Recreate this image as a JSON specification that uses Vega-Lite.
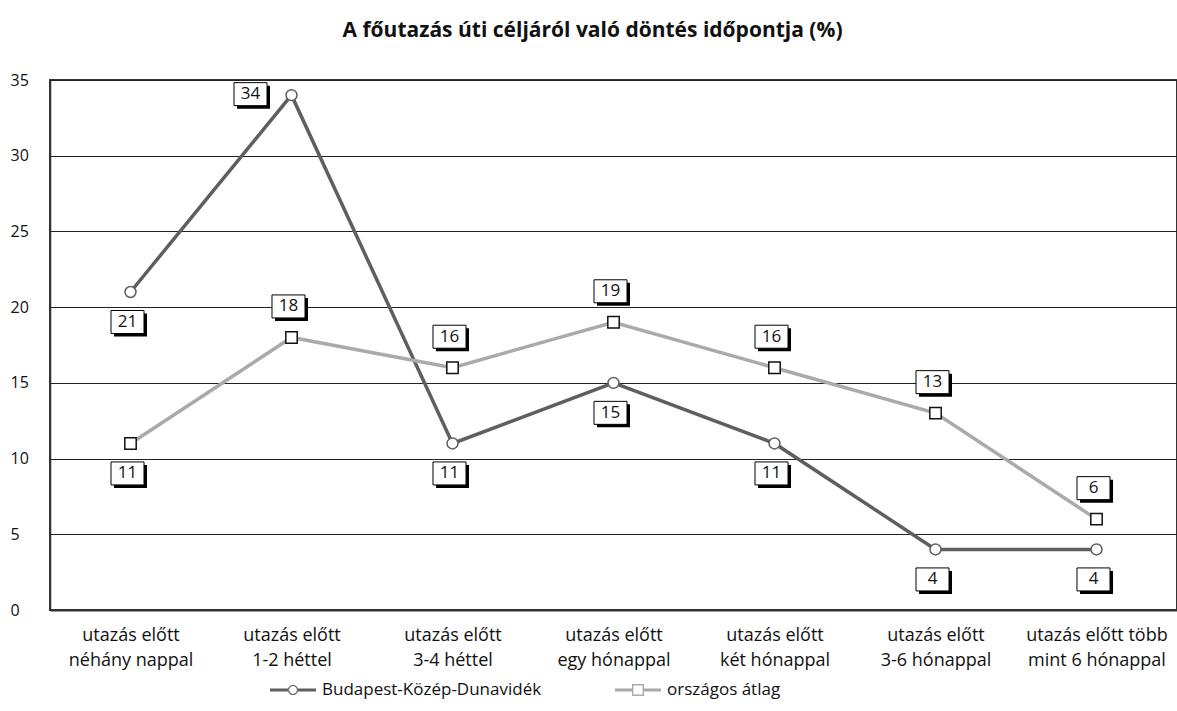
{
  "$schema": "https://vega.github.io/schema/vega-lite/v6.json",
  "width": 1127,
  "height": 530,
  "autosize": "none",
  "padding": {"left": 50, "top": 80, "right": 0, "bottom": 101},
  "background": "white",
  "config": {
    "view": {"stroke": "#333", "strokeWidth": 2},
    "font": "Open Sans"
  },
  "title": {
    "text": "A főutazás úti céljáról való döntés időpontja (%)",
    "font": "Open Sans",
    "fontSize": 21,
    "fontWeight": "bold",
    "color": "#111",
    "anchor": "middle",
    "dx": -21,
    "offset": 31
  },
  "data": {
    "values": [
      {"cat": "utazás előtt néhány nappal", "series": "Budapest-Közép-Dunavidék", "value": 21},
      {"cat": "utazás előtt 1-2 héttel", "series": "Budapest-Közép-Dunavidék", "value": 34},
      {"cat": "utazás előtt 3-4 héttel", "series": "Budapest-Közép-Dunavidék", "value": 11},
      {"cat": "utazás előtt egy hónappal", "series": "Budapest-Közép-Dunavidék", "value": 15},
      {"cat": "utazás előtt két hónappal", "series": "Budapest-Közép-Dunavidék", "value": 11},
      {"cat": "utazás előtt 3-6 hónappal", "series": "Budapest-Közép-Dunavidék", "value": 4},
      {"cat": "utazás előtt több mint 6 hónappal", "series": "Budapest-Közép-Dunavidék", "value": 4},
      {"cat": "utazás előtt néhány nappal", "series": "országos átlag", "value": 11},
      {"cat": "utazás előtt 1-2 héttel", "series": "országos átlag", "value": 18},
      {"cat": "utazás előtt 3-4 héttel", "series": "országos átlag", "value": 16},
      {"cat": "utazás előtt egy hónappal", "series": "országos átlag", "value": 19},
      {"cat": "utazás előtt két hónappal", "series": "országos átlag", "value": 16},
      {"cat": "utazás előtt 3-6 hónappal", "series": "országos átlag", "value": 13},
      {"cat": "utazás előtt több mint 6 hónappal", "series": "országos átlag", "value": 6}
    ]
  },
  "encoding": {
    "x": {
      "field": "cat",
      "type": "ordinal",
      "sort": null,
      "scale": {"type": "point", "padding": 0.5},
      "axis": {
        "title": null,
        "labelAngle": 0,
        "ticks": false,
        "grid": false,
        "domainColor": "#333",
        "domainWidth": 2,
        "labelFont": "Open Sans",
        "labelFontSize": 18,
        "labelColor": "#111",
        "labelPadding": 16,
        "labelLineHeight": 25,
        "labelOverlap": false,
        "labelLimit": 0,
        "labelExpr": "indexof(datum.label, 'több') > 0 ? ['utazás előtt több', 'mint 6 hónappal'] : [slice(datum.label, 0, 12), slice(datum.label, 13)]"
      }
    },
    "y": {
      "field": "value",
      "type": "quantitative",
      "scale": {"domain": [0, 35], "nice": false},
      "axis": {
        "title": null,
        "values": [0, 5, 10, 15, 20, 25, 30, 35],
        "grid": true,
        "gridColor": "#222",
        "gridWidth": 1,
        "ticks": false,
        "domainColor": "#333",
        "domainWidth": 1.5,
        "labelAlign": "left",
        "labelPadding": 40,
        "labelFont": "Open Sans",
        "labelFontSize": 16,
        "labelColor": "#111"
      }
    }
  },
  "layer": [
    {
      "mark": {"type": "line", "strokeWidth": 3.5},
      "encoding": {
        "color": {
          "field": "series",
          "type": "nominal",
          "scale": {"domain": ["Budapest-Közép-Dunavidék", "országos átlag"], "range": ["#5f5f5f", "#aaaaaa"]},
          "legend": {
            "orient": "none",
            "legendX": 220,
            "legendY": 587,
            "direction": "horizontal",
            "title": null,
            "symbolSize": 2116,
            "labelFont": "Open Sans",
            "labelFontSize": 17,
            "labelColor": "#111",
            "labelOffset": 6,
            "labelLimit": 0,
            "columnPadding": 73,
            "encode": {
              "symbols": {
                "update": {
                  "shape": {"signal": "datum.value == 'Budapest-Közép-Dunavidék' ? 'M-1,-0.07L-0.21,-0.07L-0.21,0.07L-1,0.07ZM0.21,-0.07L1,-0.07L1,0.07L0.21,0.07ZM-0.22,0A0.22 0.22 0 1 0 0.22,0A0.22 0.22 0 1 0 -0.22,0ZM-0.17,0A0.17 0.17 0 1 1 0.17,0A0.17 0.17 0 1 1 -0.17,0Z' : 'M-1,-0.07L-0.26,-0.07L-0.26,0.07L-1,0.07ZM0.26,-0.07L1,-0.07L1,0.07L0.26,0.07ZM-0.26,-0.26L0.26,-0.26L0.26,0.26L-0.26,0.26ZM-0.2,-0.2L-0.2,0.2L0.2,0.2L0.2,-0.2Z'"},
                  "fill": {"scale": "color", "field": "value"},
                  "stroke": {"value": "transparent"},
                  "strokeWidth": {"value": 0},
                  "opacity": {"value": 1}
                }
              }
            }
          }
        }
      }
    },
    {
      "transform": [{"filter": "datum.series == 'Budapest-Közép-Dunavidék'"}],
      "mark": {"type": "point", "shape": "circle", "size": 120, "filled": true, "fill": "white", "stroke": "#5f5f5f", "strokeWidth": 1.5, "opacity": 1}
    },
    {
      "transform": [{"filter": "datum.series == 'országos átlag'"}],
      "mark": {"type": "point", "shape": "square", "size": 130, "filled": true, "fill": "white", "stroke": "#111", "strokeWidth": 1.5, "opacity": 1}
    },
    {
      "transform": [{"filter": "(datum.series == 'Budapest-Közép-Dunavidék' && datum.cat != 'utazás előtt 1-2 héttel') || (datum.series == 'országos átlag' && datum.cat == 'utazás előtt néhány nappal')"}],
      "layer": [
        {"mark": {"type": "point", "shape": "M-1.435,-1L1.435,-1L1.435,1L-1.435,1Z", "size": 529, "filled": true, "fill": "black", "strokeWidth": 0, "opacity": 1, "xOffset": 0, "yOffset": 33}},
        {"mark": {"type": "point", "shape": "M-1.435,-1L1.435,-1L1.435,1L-1.435,1Z", "size": 529, "filled": true, "fill": "white", "stroke": "black", "strokeWidth": 1, "opacity": 1, "xOffset": -3, "yOffset": 30}},
        {"mark": {"type": "text", "font": "Open Sans", "fontSize": 17, "color": "#111", "align": "center", "baseline": "middle", "xOffset": -3, "yOffset": 30}, "encoding": {"text": {"field": "value", "type": "quantitative"}}}
      ]
    },
    {
      "transform": [{"filter": "datum.series == 'országos átlag' && datum.cat != 'utazás előtt néhány nappal'"}],
      "layer": [
        {"mark": {"type": "point", "shape": "M-1.435,-1L1.435,-1L1.435,1L-1.435,1Z", "size": 529, "filled": true, "fill": "black", "strokeWidth": 0, "opacity": 1, "xOffset": 0, "yOffset": -28}},
        {"mark": {"type": "point", "shape": "M-1.435,-1L1.435,-1L1.435,1L-1.435,1Z", "size": 529, "filled": true, "fill": "white", "stroke": "black", "strokeWidth": 1, "opacity": 1, "xOffset": -3, "yOffset": -31}},
        {"mark": {"type": "text", "font": "Open Sans", "fontSize": 17, "color": "#111", "align": "center", "baseline": "middle", "xOffset": -3, "yOffset": -31}, "encoding": {"text": {"field": "value", "type": "quantitative"}}}
      ]
    },
    {
      "transform": [{"filter": "datum.series == 'Budapest-Közép-Dunavidék' && datum.cat == 'utazás előtt 1-2 héttel'"}],
      "layer": [
        {"mark": {"type": "point", "shape": "M-1.435,-1L1.435,-1L1.435,1L-1.435,1Z", "size": 529, "filled": true, "fill": "black", "strokeWidth": 0, "opacity": 1, "xOffset": -38, "yOffset": 2}},
        {"mark": {"type": "point", "shape": "M-1.435,-1L1.435,-1L1.435,1L-1.435,1Z", "size": 529, "filled": true, "fill": "white", "stroke": "black", "strokeWidth": 1, "opacity": 1, "xOffset": -41, "yOffset": -1}},
        {"mark": {"type": "text", "font": "Open Sans", "fontSize": 17, "color": "#111", "align": "center", "baseline": "middle", "xOffset": -41, "yOffset": -1}, "encoding": {"text": {"field": "value", "type": "quantitative"}}}
      ]
    }
  ]
}
